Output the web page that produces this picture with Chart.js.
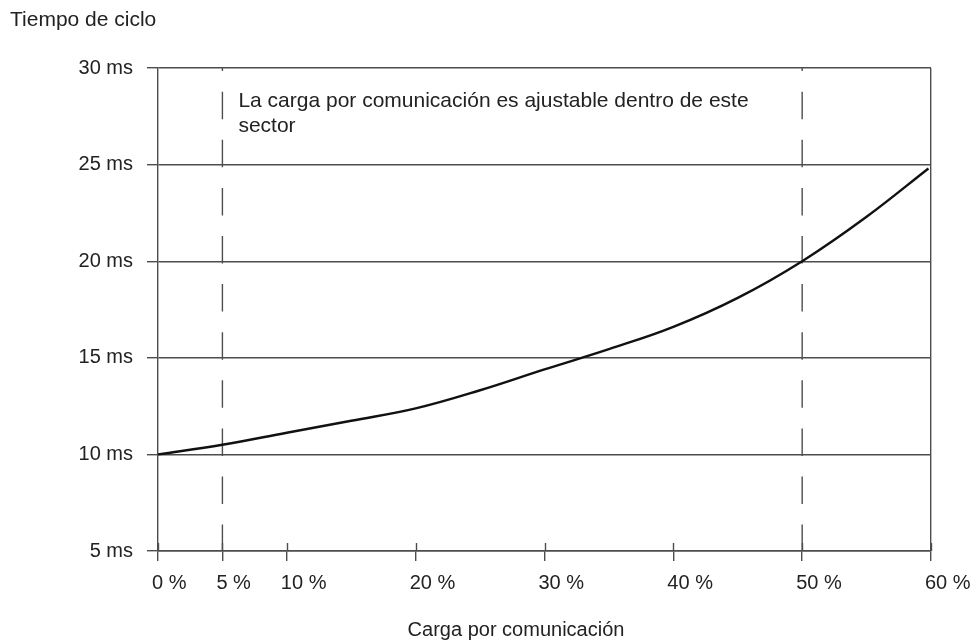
<!DOCTYPE html>
<html>
<head>
<meta charset="utf-8">
<title>Tiempo de ciclo</title>
<script src="https://cdn.jsdelivr.net/npm/chart.js@4.4.0/dist/chart.umd.min.js"></script>
<style>
  html, body { margin: 0; padding: 0; background: #fff; }
  #wrap { width: 974px; height: 640px; }
</style>
</head>
<body>
<div id="wrap"><canvas id="chart"></canvas></div>
<script>
// communication load (%) vs. cycle time (ms)
let loadPct = [0, 5, 10, 15, 20, 25, 30, 35, 40, 45, 50, 55, 59.8];
let cycleMs = [10.0, 10.5, 11.12, 11.74, 12.38, 13.32, 14.4, 15.45, 16.6, 18.1, 20.0, 22.3, 24.8];

// tick values on both axes
let xTicks = [0, 5, 10, 20, 30, 40, 50, 60];
let yTicks = [5, 10, 15, 20, 25, 30];

// adjustable range, shown as dashed verticals
let sectorBounds = [5, 50];

let yTitle = "Tiempo de ciclo";
let xTitle = "Carga por comunicación";
let note = ["La carga por comunicación es ajustable dentro de este", "sector"];

const FONT = '"Liberation Sans", Arial, sans-serif';
const lineCol = "#4d4d4d";
const textCol = "#222";

Chart.defaults.font.family = FONT;
Chart.defaults.font.size = 20;
Chart.defaults.color = textCol;

let datasets = [
    {
        data: loadPct.map(function(x, i) { return { x: x, y: cycleMs[i] }; }),
        borderColor: "#111",
        borderWidth: 2.4,
        pointRadius: 0,
        tension: 0.4,
        fill: false
    }
];

sectorBounds.forEach(function(x)
{
    datasets.push({
        data: [{ x: x, y: yTicks[yTicks.length - 1] }, { x: x, y: yTicks[0] }],
        borderColor: lineCol,
        borderWidth: 1.4,
        borderDash: [27.5, 20.6],
        borderDashOffset: 24.4,
        pointRadius: 0,
        fill: false
    });
});

// short inner tick marks on the x axis plus the free text
const extras = {
    id: "extras",
    afterDatasetsDraw: function(chart)
    {
        const c = chart.ctx;
        const area = chart.chartArea;
        const xs = chart.scales.x;

        c.save();
        c.strokeStyle = lineCol;
        c.lineWidth = 1.4;
        xTicks.forEach(function(v)
        {
            const px = Math.round(xs.getPixelForValue(v)) + 0.5;
            c.beginPath();
            c.moveTo(px, area.bottom - 8);
            c.lineTo(px, area.bottom);
            c.stroke();
        });

        c.fillStyle = textCol;
        c.font = "21px " + FONT;
        c.textBaseline = "alphabetic";
        c.textAlign = "left";
        c.fillText(yTitle, 10, 26);

        const nx = xs.getPixelForValue(sectorBounds[0]) + 16;
        c.fillText(note[0], nx, area.top + 39);
        c.fillText(note[1], nx, area.top + 64);

        c.font = "20px " + FONT;
        c.textAlign = "center";
        c.fillText(xTitle, area.left + 358, 636);
        c.restore();
    }
};

let myChart = document.getElementById("chart").getContext("2d");
let display = new Chart(myChart,
{
    type: "line",
    data: { datasets: datasets },
    plugins: [extras],
    options: {
        responsive: true,
        maintainAspectRatio: false,
        animation: false,
        layout: { padding: { top: 68, right: 43, left: 0, bottom: 0 } },
        plugins: {
            legend: { display: false },
            tooltip: { enabled: false }
        },
        scales: {
            x: {
                type: "linear",
                min: 0,
                max: 60,
                afterBuildTicks: function(s) { s.ticks = xTicks.map(function(v) { return { value: v }; }); },
                afterFit: function(s) { s.height = 89; s.paddingLeft = 0; s.paddingRight = 0; },
                border: { display: true, color: lineCol, width: 1.4 },
                grid: {
                    color: function(ctx) { return ctx.tick && ctx.tick.value === 60 ? lineCol : "rgba(0,0,0,0)"; },
                    tickColor: lineCol,
                    tickLength: 10,
                    lineWidth: 1.4
                },
                ticks: {
                    align: "start",
                    labelOffset: -6,
                    padding: 10,
                    maxRotation: 0,
                    autoSkip: false,
                    color: textCol,
                    callback: function(v) { return v + " %"; }
                }
            },
            y: {
                type: "linear",
                min: 5,
                max: 30,
                afterBuildTicks: function(s) { s.ticks = yTicks.map(function(v) { return { value: v }; }); },
                afterFit: function(s) { s.width = 158; },
                border: { display: true, color: lineCol, width: 1.4 },
                grid: { color: lineCol, tickColor: lineCol, tickLength: 11, lineWidth: 1.4 },
                ticks: {
                    padding: 14,
                    color: textCol,
                    callback: function(v) { return v + " ms"; }
                }
            }
        }
    }
});
</script>
</body>
</html>
